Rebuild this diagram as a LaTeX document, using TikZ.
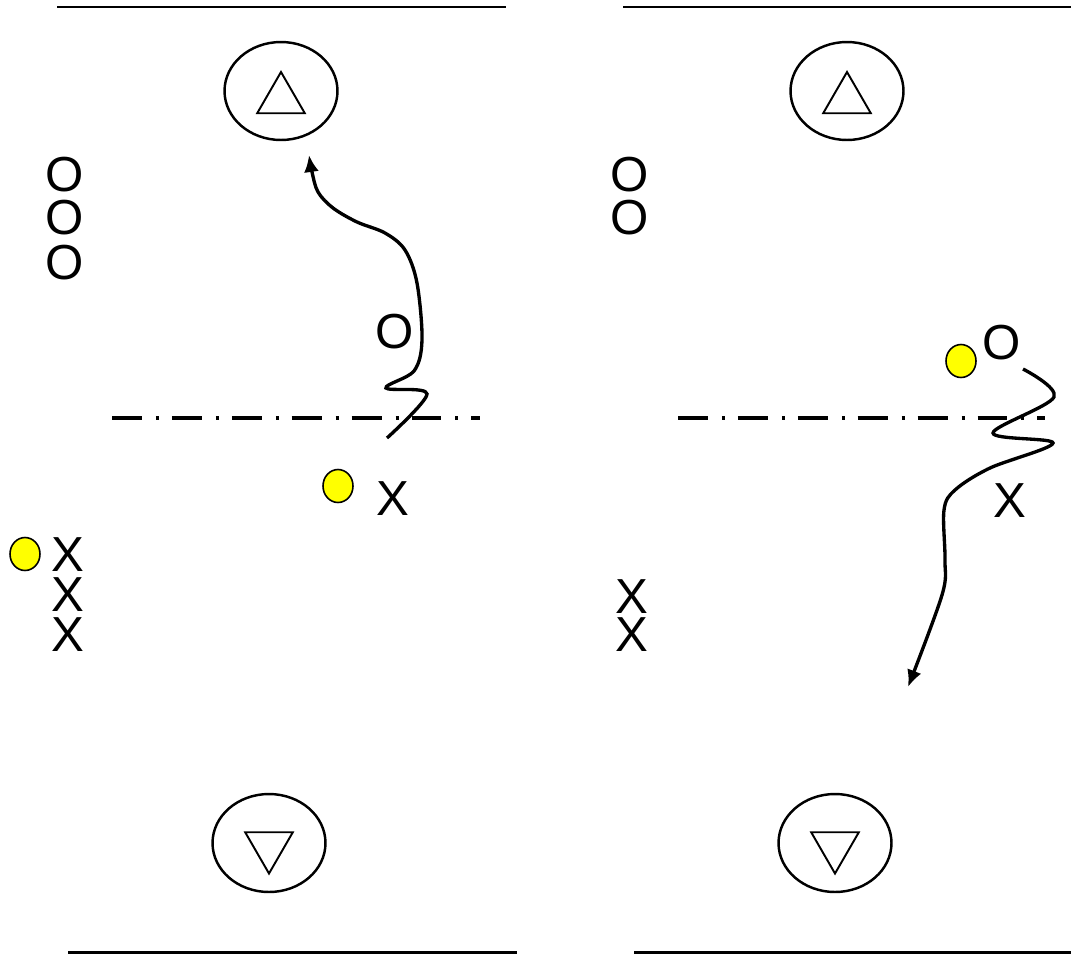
\documentclass[tikz,border=0pt]{standalone}
\usepackage{fontspec}
\setmainfont{Liberation Sans}
\usepackage{tikz}
\usetikzlibrary{shapes.geometric, arrows.meta, positioning}
\definecolor{ballyellow}{RGB}{255, 255, 0}

\begin{document}
\begin{tikzpicture}[
    x=0.02cm, y=-0.02cm,
    player/.style={inner sep=0pt, font=\fontsize{28}{28}\selectfont},
    ball/.style={ellipse, draw, line width=0.9pt, fill=ballyellow, minimum width=0.6cm, minimum height=0.66cm, inner sep=0pt},
    goal/.style={ellipse, draw, line width=1.4pt, minimum width=2.26cm, minimum height=1.96cm},
    cone/.style={regular polygon, regular polygon sides=3, draw, line width=1.1pt, minimum size=1.1cm, inner sep=0pt},
    touchline/.style={line width=1.7pt},
    halfway/.style={line width=2.3pt, dash pattern=on 17pt off 8pt on 1.7pt off 7.4pt},
    dribble/.style={line width=1.9pt, -{Latex[length=3.4mm, width=3mm]}}
]
    \useasboundingbox (0,0) rectangle (1071,954);

    % left drill
    \draw[touchline] (57,7) -- (506,7);
    \draw[touchline] (68,952) -- (517,952);
    \node[goal] (goalLT) at (281,91) {};
    \node[cone] (coneLT) at ([yshift=-0.17cm]goalLT.center) {};
    \node[goal] (goalLB) at (269,843) {};
    \node[cone, shape border rotate=180] (coneLB) at ([yshift=-0.06cm]goalLB.center) {};
    \draw[halfway] (112,418) -- (480,418);

    \node[player] (attL1) at (65,175) {O};
    \node[player] (attL2) at (65,218) {O};
    \node[player] (attL3) at (65,263) {O};
    \node[player] (attL4) at (395,332) {O};
    \node[player] (defL1) at (68,555) {X};
    \node[player] (defL2) at (68,595) {X};
    \node[player] (defL3) at (68,635) {X};
    \node[player] (defL4) at (393,499) {X};
    \node[ball] (ballL1) at (25,554) {};
    \node[ball] (ballL2) at (338,486) {};

    \coordinate (dribL0) at (387,438);
    \coordinate (dribL1) at (309,155);
    \draw[dribble] plot[smooth, tension=0.55] coordinates {(dribL0) (427,394) (386,388) (414,371) (422,340) (417,283) (405,250) (385,233) (357,222) (333,208) (318,192) (312,172) (dribL1)};

    % right drill
    \draw[touchline] (623,7) -- (1071,7);
    \draw[touchline] (634,952) -- (1071,952);
    \node[goal] (goalRT) at (847,91) {};
    \node[cone] (coneRT) at ([yshift=-0.17cm]goalRT.center) {};
    \node[goal] (goalRB) at (835,843) {};
    \node[cone, shape border rotate=180] (coneRB) at ([yshift=-0.06cm]goalRB.center) {};
    \draw[halfway] (678,418) -- (1045,418);

    \node[player] (attR1) at (630,175) {O};
    \node[player] (attR2) at (630,218) {O};
    \node[player] (attR3) at (1002,343) {O};
    \node[player] (defR1) at (632,597) {X};
    \node[player] (defR2) at (632,635) {X};
    \node[player] (defR3) at (1010,501) {X};
    \node[ball] (ballR1) at (961,361) {};

    \coordinate (dribR0) at (1023,369);
    \coordinate (dribR1) at (908,687);
    \draw[dribble] plot[smooth, tension=0.55] coordinates {(dribR0) (1054,397) (993,433) (1053,443) (990,468) (955,490) (944,510) (945,560) (942,595) (dribR1)};
\end{tikzpicture}
\end{document}
